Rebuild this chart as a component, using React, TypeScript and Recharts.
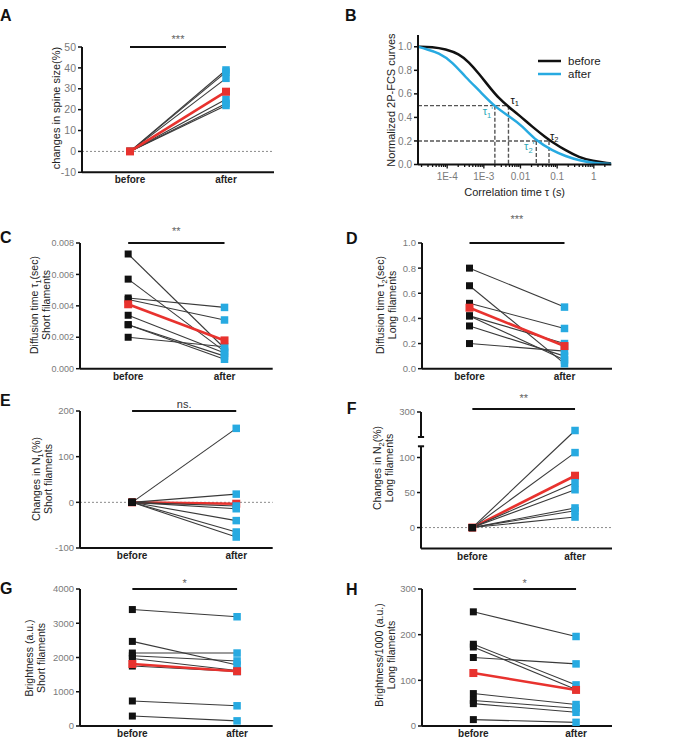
import React from "react";
import {
  Line,
  LineChart,
  ReferenceDot,
  ReferenceLine,
  XAxis,
  YAxis,
} from "recharts";

const FONT = "Arial, 'Liberation Sans', Helvetica, sans-serif";
const INK = "#111";
const BLUE = "#27aae1";
const RED = "#e8322e";
const TICK = "#7a7a7a";
const TEAL = "#2aa8b8";

const xLabels = ["before", "after"];

// A: changes in spine size (%)
const aBefore = [0, 0, 0, 0, 0, 0];
const aAfter = [39, 38, 35, 25, 23, 22];
const aMean = [0, 28.6];
const aTicks = [-10, 0, 10, 20, 30, 40, 50];

// B: normalized 2P-FCS curves (tau in s)
const bTauBefore = [1.6e-5, 4e-5, 9e-5, 2.1e-4, 3.9e-4, 7.4e-4, 1.4e-3, 2.6e-3, 4.7e-3, 9.1e-3, 0.021, 0.049, 0.074, 0.17, 0.4, 0.91, 2.6, 3];
const bGBefore = [1.0, 1.0, 0.98, 0.94, 0.87, 0.77, 0.66, 0.56, 0.49, 0.42, 0.32, 0.23, 0.19, 0.12, 0.06, 0.03, 0.01, 0.008];
const bTauAfter = [1.6e-5, 2.6e-5, 5.9e-5, 1.4e-4, 3.2e-4, 7.4e-4, 2.0e-3, 4.9e-3, 0.011, 0.027, 0.074, 0.17, 0.4, 1.1, 3];
const bGAfter = [1.0, 0.98, 0.95, 0.87, 0.74, 0.63, 0.49, 0.41, 0.33, 0.2, 0.12, 0.07, 0.035, 0.01, 0.005];
const bSeries = ["before", "after"];
const bColors = [INK, BLUE];
const bMajor = [1e-4, 1e-3, 0.01, 0.1, 1];
const bMajorLabels = ["1E-4", "1E-3", "0.01", "0.1", "1"];
const bYTicks = [0, 0.2, 0.4, 0.6, 0.8, 1.0];
const tau1 = 0.0047;
const tau1p = 0.002;
const tau2 = 0.06;
const tau2p = 0.027;

// C: diffusion time tau1, short filaments
const cBefore = [0.0073, 0.0057, 0.0045, 0.0044, 0.0034, 0.0028, 0.0028, 0.002];
const cAfter = [0.0013, 0.0011, 0.0039, 0.0031, 0.001, 0.0008, 0.0006, 0.0014];
const cMean = [0.0041, 0.0018];
const cTicks = [0, 0.002, 0.004, 0.006, 0.008];

// D: diffusion time tau2, long filaments
const dBefore = [0.8, 0.66, 0.52, 0.42, 0.42, 0.34, 0.2];
const dAfter = [0.49, 0.04, 0.32, 0.2, 0.07, 0.1, 0.14];
const dMean = [0.485, 0.18];
const dTicks = [0, 0.2, 0.4, 0.6, 0.8, 1.0];

// E: changes in N1 (%)
const eBefore = [0, 0, 0, 0, 0, 0, 0];
const eAfter = [162, 18, -8, -14, -40, -65, -76];
const eMean = [0, -3];
const eTicks = [-100, 0, 100, 200];

// F: changes in N2 (%), broken axis
const fBefore = [0, 0, 0, 0, 0, 0, 0];
const fAfter = [226, 107, 64, 54, 28, 24, 15];
const fMean = [0, 74];
const fTicks = [0, 50, 100, 300];

// G: brightness, short filaments
const gBefore = [3400, 2470, 2130, 2050, 1970, 1750, 730, 290];
const gAfter = [3190, 1780, 2130, 1900, 1620, 1590, 590, 150];
const gMean = [1810, 1600];
const gTicks = [0, 1000, 2000, 3000, 4000];

// H: brightness/1000, long filaments
const hBefore = [250, 179, 173, 150, 71, 56, 49, 14];
const hAfter = [196, 90, 80, 136, 47, 39, 30, 8];
const hMean = [116, 79];
const hTicks = [0, 100, 200, 300];

// minor log ticks for panel B
const bMinor: number[] = [];
for (const d of [-5, -4, -3, -2, -1, 0]) {
  for (const m of [2, 3, 4, 5, 6, 7, 8, 9]) {
    const v = m * Math.pow(10, d);
    if (v > 1.6e-5 && v < 3) bMinor.push(v);
  }
}

// piecewise scale for the broken axis of F
const fBreaks = [-30, 116, 200, 300];
const fFrac = [0, 0.749, 0.817, 1];
function makeBrokenScale(dom: number[] = [-30, 300], rng: number[] = [0, 1]): any {
  const s: any = (v: number) => {
    let i = 0;
    while (i < fBreaks.length - 2 && v > fBreaks[i + 1]) i++;
    const t =
      fFrac[i] +
      ((v - fBreaks[i]) / (fBreaks[i + 1] - fBreaks[i])) * (fFrac[i + 1] - fFrac[i]);
    return rng[0] + t * (rng[1] - rng[0]);
  };
  s.domain = (d?: number[]) => (d ? ((dom = d), s) : dom);
  s.range = (r?: number[]) => (r ? ((rng = r), s) : rng);
  s.copy = () => makeBrokenScale(dom.slice(), rng.slice());
  s.ticks = () => fTicks;
  return s;
}

type Box = { x0: number; x1: number; y0: number; y1: number };

const frame = (b: Box, top: number, bottom: number) => ({
  left: b.x0 - 50,
  top: b.y0 - top,
  width: b.x1 - b.x0 + 62,
  height: b.y1 - b.y0 + top + bottom,
});

const pairDot = (p: any) => {
  const { cx, cy, index } = p;
  if (cx == null || cy == null) return <g key={`n${index}`} />;
  const s = index === 0 ? 7 : 7.5;
  return (
    <rect
      key={`d${index}`}
      x={cx - s / 2}
      y={cy - s / 2}
      width={s}
      height={s}
      fill={index === 0 ? INK : BLUE}
    />
  );
};

const meanDot = (p: any) => {
  const { cx, cy, index } = p;
  if (cx == null || cy == null) return <g key={`n${index}`} />;
  return <rect key={`m${index}`} x={cx - 4} y={cy - 4} width={8} height={8} fill={RED} />;
};

type PairProps = {
  box: Box;
  before: number[];
  after: number[];
  mean: number[];
  yDomain: [number, number];
  yTicks: number[];
  fmt?: (v: number) => string;
  xMax: number;
  stars: string;
  starOffset: number;
  starColor?: string;
  barY?: number;
  zeroLine?: boolean;
  meanFirst?: boolean;
  broken?: boolean;
  tickSize?: number;
};

function PairPanel(p: PairProps) {
  const top = 34;
  const bottom = 22;
  const f = frame(p.box, top, bottom);
  const subj = p.before.map((b, i) => [
    { x: 0, y: b },
    { x: 1, y: p.after[i] },
  ]);
  const meanPts = [
    { x: 0, y: p.mean[0] },
    { x: 1, y: p.mean[1] },
  ];
  const meanLine = (
    <Line
      key="mean"
      data={meanPts}
      dataKey="y"
      stroke={RED}
      strokeWidth={2.6}
      dot={meanDot}
      isAnimationActive={false}
    />
  );
  const subjLines = subj.map((d, i) => (
    <Line
      key={`s${i}`}
      data={d}
      dataKey="y"
      stroke="#3a3a3a"
      strokeWidth={1.1}
      dot={pairDot}
      isAnimationActive={false}
    />
  ));
  const barY = p.barY ?? p.yDomain[1];
  const axisX = -0.5;
  const brokenAxis = p.broken
    ? [
        <ReferenceLine key="ax1" segment={[{ x: axisX, y: -30 }, { x: axisX, y: 116 }]} stroke={INK} strokeWidth={2} ifOverflow="visible" />,
        <ReferenceLine key="ax2" segment={[{ x: axisX, y: 200 }, { x: axisX, y: 300 }]} stroke={INK} strokeWidth={2} ifOverflow="visible" />,
        <ReferenceLine key="cap1" segment={[{ x: axisX - 0.03, y: 116 }, { x: axisX + 0.03, y: 116 }]} stroke={INK} strokeWidth={2} ifOverflow="visible" />,
        <ReferenceLine key="cap2" segment={[{ x: axisX - 0.03, y: 200 }, { x: axisX + 0.03, y: 200 }]} stroke={INK} strokeWidth={2} ifOverflow="visible" />,
      ]
    : [];
  return (
    <div style={{ position: "absolute", left: f.left, top: f.top }}>
      <LineChart
        width={f.width}
        height={f.height}
        margin={{ top, right: 12, bottom: 0, left: 10 }}
      >
        <XAxis
          dataKey="x"
          type="number"
          domain={[-0.5, p.xMax]}
          ticks={[0, 1]}
          interval={0}
          tickFormatter={(v) => xLabels[v] ?? ""}
          tickLine={false}
          tickSize={0}
          tickMargin={4}
          height={bottom}
          allowDataOverflow
          axisLine={{ stroke: INK, strokeWidth: 2 }}
          tick={{ fill: "#222", fontSize: 10, fontWeight: 700, fontFamily: FONT }}
        />
        <YAxis
          type="number"
          domain={p.yDomain}
          ticks={p.yTicks}
          interval={0}
          tickFormatter={p.fmt}
          width={40}
          tickSize={4}
          tickMargin={2}
          allowDataOverflow
          scale={p.broken ? makeBrokenScale() : "linear"}
          tickLine={{ stroke: INK, strokeWidth: 1.5 }}
          axisLine={p.broken ? false : { stroke: INK, strokeWidth: 2 }}
          tick={{ fill: TICK, fontSize: p.tickSize ?? 9.5, fontFamily: FONT }}
        />
        {p.zeroLine && (
          <ReferenceLine y={0} stroke="#8a8a8a" strokeDasharray="2 2" strokeWidth={1} />
        )}
        {brokenAxis}
        <ReferenceLine
          segment={[
            { x: 0, y: barY },
            { x: 1, y: barY },
          ]}
          stroke={INK}
          strokeWidth={2}
          ifOverflow="visible"
          label={{
            value: p.stars,
            position: "top",
            offset: p.starOffset,
            fill: p.starColor ?? "#666",
            fontSize: 11,
            fontFamily: FONT,
          }}
        />
        {p.meanFirst ? [meanLine, ...subjLines] : [...subjLines, meanLine]}
      </LineChart>
    </div>
  );
}

const LogTick = (props: any) => {
  const { x, y, payload } = props;
  const i = bMajor.indexOf(payload.value);
  const major = i >= 0;
  return (
    <g>
      <line x1={x} x2={x} y1={y} y2={y + (major ? 4 : 2.5)} stroke={INK} strokeWidth={1.3} />
      {major && (
        <text x={x} y={y + 15.5} textAnchor="middle" fill={TICK} fontSize={10} fontFamily={FONT}>
          {bMajorLabels[i]}
        </text>
      )}
    </g>
  );
};

const tauLabel =
  (sub: string, prime: boolean, color: string, dx: number, dy: number, anchor: string) =>
  (p: any) => {
    const vb = p.viewBox || {};
    return (
      <text
        x={(vb.x ?? 0) + dx}
        y={(vb.y ?? 0) + dy}
        fill={color}
        fontSize={11}
        fontFamily={FONT}
        textAnchor={anchor as any}
      >
        τ
        <tspan fontSize={7.5} dy={2.5}>
          {sub}
        </tspan>
        {prime && (
          <tspan fontSize={9} dy={-5}>
            '
          </tspan>
        )}
      </text>
    );
  };

function LegendB() {
  return (
    <div
      style={{
        position: "absolute",
        left: 538,
        top: 54.5,
        fontFamily: FONT,
        fontSize: 11.5,
        color: "#222",
      }}
    >
      {bSeries.map((name, i) => (
        <div key={name} style={{ display: "flex", alignItems: "center", height: 13.3 }}>
          <svg width={23} height={4}>
            <line x1={0} x2={23} y1={2} y2={2} stroke={bColors[i]} strokeWidth={2.5} />
          </svg>
          <span style={{ marginLeft: 7 }}>{name}</span>
        </div>
      ))}
    </div>
  );
}

function PanelB() {
  const box = { x0: 417.7, x1: 611, y0: 34.5, y1: 164 };
  const top = 34;
  const bottom = 34;
  const f = frame(box, top, bottom);
  const before = bTauBefore.map((t, i) => ({ t, g: bGBefore[i] }));
  const after = bTauAfter.map((t, i) => ({ t, g: bGAfter[i] }));
  const xMin = 1.6e-5;
  const dash = { stroke: "#555", strokeWidth: 1.4, strokeDasharray: "4 2", ifOverflow: "visible" as const };
  return (
    <div style={{ position: "absolute", left: f.left, top: f.top }}>
      <LineChart width={f.width} height={f.height} margin={{ top, right: 12, bottom: 0, left: 10 }}>
        <XAxis
          dataKey="t"
          type="number"
          scale="log"
          domain={[xMin, 3]}
          allowDataOverflow
          ticks={[...bMajor, ...bMinor]}
          interval={0}
          tickLine={false}
          tickSize={0}
          tickMargin={0}
          tick={(tp: any) => <LogTick {...tp} />}
          height={bottom}
          axisLine={{ stroke: INK, strokeWidth: 2 }}
          label={{
            value: "Correlation time τ (s)",
            position: "insideBottom",
            offset: 2,
            fill: "#222",
            fontSize: 11,
            fontFamily: FONT,
          }}
        />
        <YAxis
          type="number"
          domain={[0, 1.1]}
          ticks={bYTicks}
          interval={0}
          tickFormatter={(v) => v.toFixed(1)}
          width={40}
          tickSize={4}
          tickMargin={2}
          tickLine={{ stroke: INK, strokeWidth: 1.5 }}
          axisLine={{ stroke: INK, strokeWidth: 2 }}
          tick={{ fill: TICK, fontSize: 10, fontFamily: FONT }}
        />
        <ReferenceLine segment={[{ x: xMin, y: 0.5 }, { x: tau1, y: 0.5 }]} {...dash} />
        <ReferenceLine segment={[{ x: tau1, y: 0.5 }, { x: tau1, y: 0 }]} {...dash} />
        <ReferenceLine segment={[{ x: tau1p, y: 0.5 }, { x: tau1p, y: 0 }]} {...dash} />
        <ReferenceLine segment={[{ x: xMin, y: 0.2 }, { x: tau2, y: 0.2 }]} {...dash} />
        <ReferenceLine segment={[{ x: tau2, y: 0.2 }, { x: tau2, y: 0 }]} {...dash} />
        <ReferenceLine segment={[{ x: tau2p, y: 0.2 }, { x: tau2p, y: 0 }]} {...dash} />
        <Line
          data={before}
          dataKey="g"
          name={bSeries[0]}
          type="basis"
          stroke={bColors[0]}
          strokeWidth={2.5}
          dot={false}
          isAnimationActive={false}
        />
        <Line
          data={after}
          dataKey="g"
          name={bSeries[1]}
          type="basis"
          stroke={bColors[1]}
          strokeWidth={2.5}
          dot={false}
          isAnimationActive={false}
        />
        <ReferenceDot x={tau1} y={0.5} r={0} stroke="none" ifOverflow="visible" label={tauLabel("1", false, INK, 2, -2, "start")} />
        <ReferenceDot x={tau1p} y={0.5} r={0} stroke="none" ifOverflow="visible" label={tauLabel("1", true, TEAL, -2, 9.5, "end")} />
        <ReferenceDot x={tau2} y={0.2} r={0} stroke="none" ifOverflow="visible" label={tauLabel("2", false, INK, 1, -1, "start")} />
        <ReferenceDot x={tau2p} y={0.2} r={0} stroke="none" ifOverflow="visible" label={tauLabel("2", true, TEAL, -2, 9.5, "end")} />
      </LineChart>
    </div>
  );
}

function YLabel({ x, y, size = 10.5, children }: any) {
  return (
    <div
      style={{
        position: "absolute",
        left: x,
        top: y,
        transform: "translate(-50%, -50%) rotate(-90deg)",
        whiteSpace: "nowrap",
        textAlign: "center",
        fontSize: size,
        lineHeight: "11.7px",
        color: "#222",
      }}
    >
      {children}
    </div>
  );
}

function Letter({ x, y, children }: any) {
  return (
    <div
      style={{
        position: "absolute",
        left: x,
        top: y,
        fontSize: 16,
        fontWeight: 700,
        lineHeight: 1,
        color: INK,
      }}
    >
      {children}
    </div>
  );
}

const Sub = ({ children }: any) => (
  <sub style={{ fontSize: "0.7em", lineHeight: 0 }}>{children}</sub>
);

export default function App() {
  return (
    <div
      style={{
        position: "absolute",
        left: 0,
        top: 0,
        width: 678,
        height: 746,
        background: "#fff",
        fontFamily: FONT,
        overflow: "hidden",
      }}
    >
      <PairPanel
        box={{ x0: 82, x1: 274, y0: 47, y1: 172.3 }}
        before={aBefore}
        after={aAfter}
        mean={aMean}
        yDomain={[-10, 50]}
        yTicks={aTicks}
        xMax={1.5}
        stars="***"
        starOffset={4}
        zeroLine
        tickSize={10.5}
      />
      <PanelB />
      <LegendB />
      <PairPanel
        box={{ x0: 80, x1: 272.7, y0: 243, y1: 368.7 }}
        before={cBefore}
        after={cAfter}
        mean={cMean}
        yDomain={[0, 0.008]}
        yTicks={cTicks}
        fmt={(v) => v.toFixed(3)}
        xMax={1.5}
        stars="**"
        starOffset={8}
        tickSize={9}
      />
      <PairPanel
        box={{ x0: 421.7, x1: 611.7, y0: 243, y1: 368.7 }}
        before={dBefore}
        after={dAfter}
        mean={dMean}
        yDomain={[0, 1]}
        yTicks={dTicks}
        fmt={(v) => v.toFixed(1)}
        xMax={1.5}
        stars="***"
        starOffset={20}
        tickSize={9.5}
      />
      <PairPanel
        box={{ x0: 80, x1: 272.7, y0: 410.7, y1: 547.7 }}
        before={eBefore}
        after={eAfter}
        mean={eMean}
        yDomain={[-100, 200]}
        yTicks={eTicks}
        xMax={1.35}
        stars="ns."
        starOffset={2.5}
        starColor="#333"
        zeroLine
        meanFirst
      />
      <PairPanel
        box={{ x0: 420.7, x1: 611.7, y0: 411.7, y1: 548.3 }}
        before={fBefore}
        after={fAfter}
        mean={fMean}
        yDomain={[-30, 300]}
        yTicks={fTicks}
        xMax={1.36}
        stars="**"
        starOffset={7}
        barY={312}
        zeroLine
        meanFirst
        broken
      />
      <PairPanel
        box={{ x0: 80, x1: 272.7, y0: 589, y1: 726 }}
        before={gBefore}
        after={gAfter}
        mean={gMean}
        yDomain={[0, 4000]}
        yTicks={gTicks}
        xMax={1.34}
        stars="*"
        starOffset={2}
      />
      <PairPanel
        box={{ x0: 421.7, x1: 611.7, y0: 589, y1: 726 }}
        before={hBefore}
        after={hAfter}
        mean={hMean}
        yDomain={[0, 300]}
        yTicks={hTicks}
        xMax={1.35}
        stars="*"
        starOffset={2}
      />

      <YLabel x={57} y={108} size={11}>changes in spine size(%)</YLabel>
      <YLabel x={391.7} y={100} size={11}>Normalized 2P-FCS curves</YLabel>
      <YLabel x={40.8} y={305}>
        Diffusion time τ<Sub>1</Sub>(sec)
        <br />
        Short filaments
      </YLabel>
      <YLabel x={386.7} y={305}>
        Diffusion time τ<Sub>2</Sub>(sec)
        <br />
        Long filaments
      </YLabel>
      <YLabel x={43.3} y={479}>
        Changes in N<Sub>1</Sub>(%)
        <br />
        Short filaments
      </YLabel>
      <YLabel x={384.2} y={468}>
        Changes in N<Sub>2</Sub>(%)
        <br />
        Long  filaments
      </YLabel>
      <YLabel x={35.8} y={657.5}>
        Brightness (a.u.)
        <br />
        Short filaments
      </YLabel>
      <YLabel x={385.5} y={655}>
        Brightness/1000 (a.u.)
        <br />
        Long filaments
      </YLabel>

      <Letter x={0} y={8}>A</Letter>
      <Letter x={345} y={8}>B</Letter>
      <Letter x={0} y={230}>C</Letter>
      <Letter x={346} y={231}>D</Letter>
      <Letter x={0} y={393}>E</Letter>
      <Letter x={346.7} y={401}>F</Letter>
      <Letter x={0} y={581}>G</Letter>
      <Letter x={346} y={582}>H</Letter>
    </div>
  );
}
